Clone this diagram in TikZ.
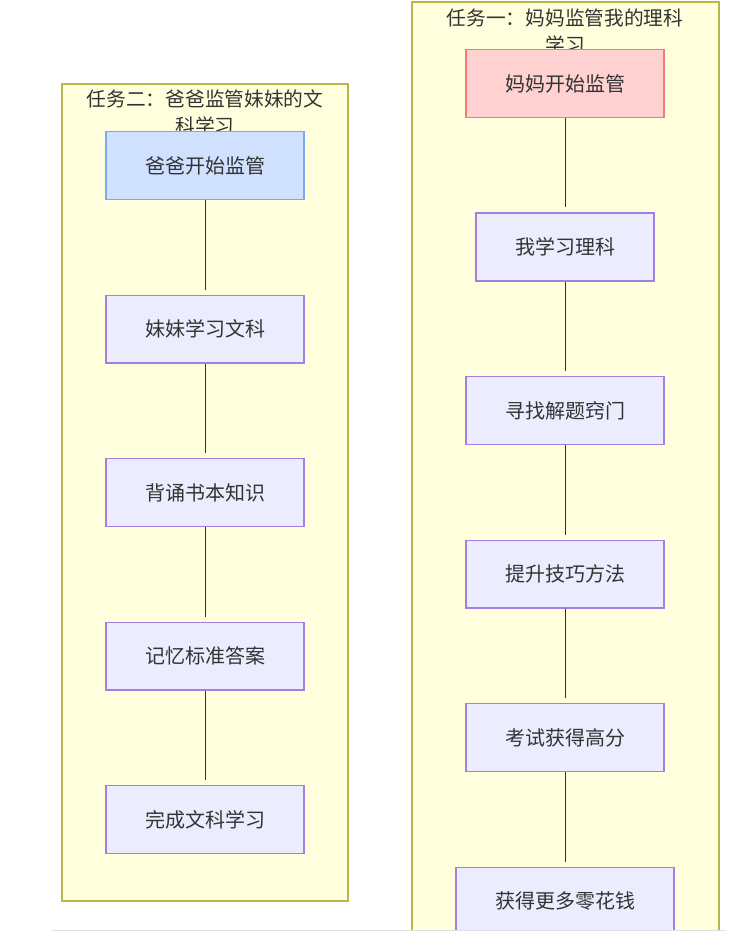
\documentclass[tikz,border=0pt]{standalone}
\usepackage{fontspec}
\setmainfont{Noto Sans CJK SC}
\usetikzlibrary{positioning}

\definecolor{clusterfill}{HTML}{FFFFDE}
\definecolor{clusterline}{HTML}{B8B84A}
\definecolor{nodefill}{HTML}{ECECFF}
\definecolor{nodeline}{HTML}{A57FE0}
\definecolor{momfill}{HTML}{FFD1D1}
\definecolor{momline}{HTML}{F47A7A}
\definecolor{dadfill}{HTML}{D0E0FF}
\definecolor{dadline}{HTML}{7EA8EE}
\definecolor{textgray}{HTML}{333333}

\begin{document}
\begin{tikzpicture}[x=1pt,y=1pt,shorten >=5pt,node distance=94.5pt,
                    task node/.style={rectangle,draw=nodeline,fill=nodefill,line width=1.3pt,
                      minimum width=198pt,minimum height=67.7pt,text=textgray,
                      font=\fontsize{20}{23}\selectfont},
                    mom node/.style={task node,draw=momline,fill=momfill},
                    dad node/.style={task node,draw=dadline,fill=dadfill},
                    cluster/.style={draw=clusterline,fill=clusterfill,line width=1.3pt},
                    title/.style={text=textgray,align=center,font=\fontsize{19.7}{27}\selectfont}]

  \useasboundingbox (0,0) rectangle (741,-933);
  \fill[white] (0,0) rectangle (741,-933);

  % clusters
  \begin{scope}
    \clip (0,0) rectangle (741,-930);
    \draw[cluster] (412,-2) rectangle (719,-945);
  \end{scope}
  \draw[cluster] (62,-84) rectangle (348,-901);
  \node[title] (T1) at (565,-31) {任务一：妈妈监管我的理科\\学习};
  \node[title] (T2) at (205,-112) {任务二：爸爸监管妹妹的文\\科学习};

  % task one
  \node[mom node] (M) at (565,-83.5) {妈妈开始监管};
  \node[task node,minimum width=178pt] (M1) [below=of M] {我学习理科};
  \node[task node] (M2) [below=of M1] {寻找解题窍门};
  \node[task node] (M3) [below=of M2] {提升技巧方法};
  \node[task node] (M4) [below=of M3] {考试获得高分};
  \begin{scope}
    \clip (0,0) rectangle (741,-930);
    \node[task node,minimum width=218pt] (M5) [below=of M4] {获得更多零花钱};
  \end{scope}

  % task two
  \node[dad node] (D) at (205,-165.5) {爸爸开始监管};
  \node[task node] (D1) [below=of D] {妹妹学习文科};
  \node[task node] (D2) [below=of D1] {背诵书本知识};
  \node[task node] (D3) [below=of D2] {记忆标准答案};
  \node[task node] (D4) [below=of D3] {完成文科学习};

  \path[draw=textgray,line width=1pt]
  	(M) edge (M1)
  	(M1) edge (M2)
  	(M2) edge (M3)
  	(M3) edge (M4)
  	(M4) edge (M5)
  	(D) edge (D1)
  	(D1) edge (D2)
  	(D2) edge (D3)
  	(D3) edge (D4);

  \draw[black!12,line width=1.5pt] (52,-930.5) -- (731,-930.5);
\end{tikzpicture}
\end{document}
